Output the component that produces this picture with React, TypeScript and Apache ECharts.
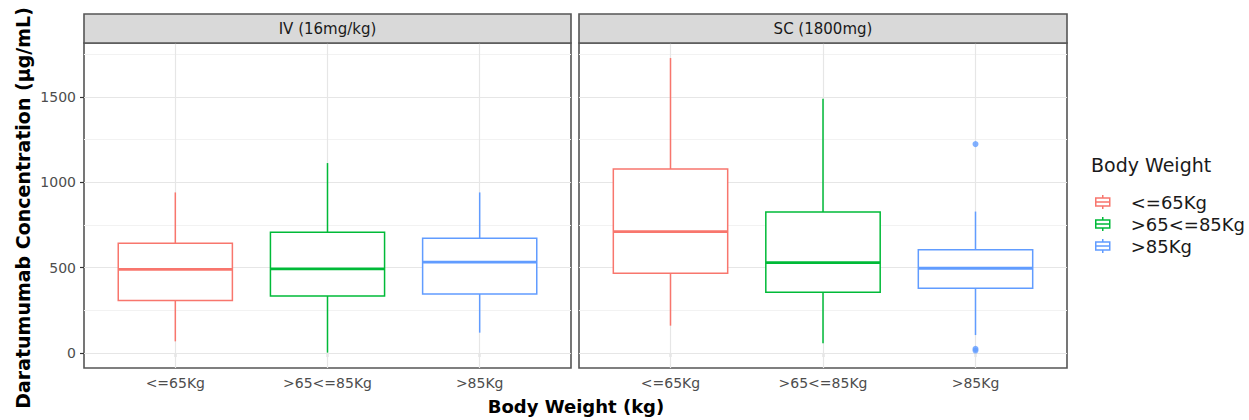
import React, { useEffect, useRef } from 'react';
import * as echarts from 'echarts';

const categories = ['<=65Kg', '>65<=85Kg', '>85Kg'];
const panelTitles = ['IV (16mg/kg)', 'SC (1800mg)'];
const yTicks = [0, 500, 1000, 1500];
const yMinor = [250, 750, 1250, 1750];
const xTicks = [1, 2, 3];
// [min, q1, median, q3, max]
const ivLow = [68, 307, 490, 643, 940];
const ivMid = [2, 334, 492, 707, 1112];
const ivHigh = [119, 346, 532, 672, 940];
const scLow = [160, 467, 711, 1077, 1727];
const scMid = [57, 356, 529, 826, 1489];
const scHigh = [105, 379, 496, 604, 828];
const scHighOutliers = [1223, 14, 24];
const colors = ['#F8766D', '#00BA38', '#619CFF'];

const FONT = 'DejaVu Sans';
const ICON = 'path://M7,0L7,3M0,3L14,3L14,11L0,11ZM0,7L14,7M7,11L7,14M30,14';

export default function App() {
  const ref = useRef<HTMLDivElement>(null);
  useEffect(() => {
    if (!ref.current) return;
    const chart = echarts.init(ref.current, undefined, { renderer: 'svg' });
    const stats = [
      [ivLow, ivMid, ivHigh],
      [scLow, scMid, scHigh],
    ];
    const grids = [
      { left: 84, top: 43, width: 487, height: 325 },
      { left: 579, top: 43, width: 488, height: 325 },
    ];
    const series: any[] = [];
    [0, 1].forEach((p) => {
      series.push({
        type: 'scatter',
        name: 'grid' + p,
        xAxisIndex: p,
        yAxisIndex: p,
        data: [[2, -1000]],
        symbolSize: 0,
        silent: true,
        z: 1,
        markLine: {
          silent: true,
          z: 1,
          symbol: 'none',
          label: { show: false },
          animation: false,
          data: [
            ...yMinor.map((v) => ({ yAxis: v, lineStyle: { color: '#F2F2F2', width: 1, type: 'solid' } })),
            ...yTicks.map((v) => ({ yAxis: v, lineStyle: { color: '#E6E6E6', width: 1.2, type: 'solid' } })),
            ...xTicks.map((v) => ({ xAxis: v, lineStyle: { color: '#E6E6E6', width: 1.2, type: 'solid' } })),
          ],
        },
      });
      categories.forEach((c, i) => {
        const col = colors[i];
        series.push({
          type: 'custom',
          name: c,
          xAxisIndex: p,
          yAxisIndex: p,
          z: 10,
          itemStyle: { color: col },
          encode: { x: 0, y: [1, 2, 3, 4, 5] },
          data: [[i + 1, ...stats[p][i]]],
          renderItem: (params: any, api: any) => {
            const x = api.value(0);
            const lo = api.coord([x, api.value(1)]);
            const q1 = api.coord([x, api.value(2)]);
            const md = api.coord([x, api.value(3)]);
            const q3 = api.coord([x, api.value(4)]);
            const hi = api.coord([x, api.value(5)]);
            const w = api.size([0.75, 0])[0];
            const cx = q1[0];
            const st = { stroke: col, lineWidth: 1.5, fill: 'none' };
            return {
              type: 'group',
              children: [
                { type: 'line', shape: { x1: cx, y1: hi[1], x2: cx, y2: q3[1] }, style: st },
                { type: 'line', shape: { x1: cx, y1: q1[1], x2: cx, y2: lo[1] }, style: st },
                { type: 'rect', shape: { x: cx - w / 2, y: q3[1], width: w, height: q1[1] - q3[1] }, style: { ...st, fill: '#fff' } },
                { type: 'line', shape: { x1: cx - w / 2, y1: md[1], x2: cx + w / 2, y2: md[1] }, style: { ...st, lineWidth: 2.8 } },
              ],
            };
          },
        });
      });
    });
    series.push({
      type: 'scatter',
      name: 'outliers',
      xAxisIndex: 1,
      yAxisIndex: 1,
      z: 11,
      symbolSize: 6,
      itemStyle: { color: colors[2] },
      data: scHighOutliers.map((v) => [3, v]),
    });

    const xAxes = [0, 1].map((p) => ({
      type: 'value',
      gridIndex: p,
      min: 0.4,
      max: 3.6,
      splitLine: { show: false },
      axisLine: { show: false },
      axisTick: { show: true, customValues: xTicks, length: 4, lineStyle: { color: '#333', width: 1.2 } },
      axisLabel: {
        customValues: xTicks,
        formatter: (v: number) => categories[Math.round(v) - 1] ?? '',
        color: '#4D4D4D',
        fontSize: 14,
        fontFamily: FONT,
        margin: 8,
      },
    }));
    const yAxes = [0, 1].map((p) => ({
      type: 'value',
      gridIndex: p,
      min: -88,
      max: 1815,
      splitLine: { show: false },
      axisLine: { show: false },
      axisTick: { show: p === 0, customValues: yTicks, length: 4, lineStyle: { color: '#333', width: 1.2 } },
      axisLabel: {
        show: p === 0,
        customValues: yTicks,
        formatter: (v: number) => String(v),
        color: '#4D4D4D',
        fontSize: 14,
        fontFamily: FONT,
        margin: 8,
      },
    }));

    const graphic: any[] = [];
    grids.forEach((g, p) => {
      graphic.push({
        type: 'rect',
        shape: { x: g.left, y: 14, width: g.width, height: 29 },
        style: { fill: '#D9D9D9', stroke: '#555', lineWidth: 1.6 },
        z: 10,
      });
      graphic.push({
        type: 'text',
        x: g.left + g.width / 2,
        y: 28.5,
        style: { text: panelTitles[p], fill: '#1A1A1A', fontSize: 15, fontFamily: FONT, align: 'center', verticalAlign: 'middle' },
        z: 11,
      });
    });
    graphic.push({
      type: 'text',
      x: 23,
      y: 208,
      rotation: Math.PI / 2,
      style: { text: 'Daratumumab Concentration (µg/mL)', fill: '#000', fontSize: 19, fontWeight: 'bold', fontFamily: FONT, align: 'center', verticalAlign: 'middle' },
    });
    graphic.push({
      type: 'text',
      x: 576,
      y: 406,
      style: { text: 'Body Weight (kg)', fill: '#000', fontSize: 18, fontWeight: 'bold', fontFamily: FONT, align: 'center', verticalAlign: 'middle' },
    });
    graphic.push({
      type: 'text',
      x: 1091,
      y: 165,
      style: { text: 'Body Weight', fill: '#1A1A1A', fontSize: 19, fontFamily: FONT, align: 'left', verticalAlign: 'middle' },
    });

    chart.setOption({
      animation: false,
      backgroundColor: '#fff',
      grid: grids.map((g) => ({ ...g, show: true, borderColor: '#555', borderWidth: 1.6, backgroundColor: 'transparent', containLabel: false })),
      xAxis: xAxes,
      yAxis: yAxes,
      legend: {
        orient: 'vertical',
        left: 1090,
        top: 188,
        itemWidth: 30,
        itemHeight: 14,
        itemGap: 4,
        selectedMode: false,
        textStyle: { fontSize: 18, fontFamily: FONT, color: '#1A1A1A' },
        data: categories.map((c, i) => ({
          name: c,
          icon: ICON,
          itemStyle: { color: 'rgba(0,0,0,0)', borderColor: colors[i], borderWidth: 1.5 },
        })),
      },
      graphic,
      series,
    });
    return () => chart.dispose();
  }, []);
  return <div ref={ref} style={{ position: 'fixed', left: 0, top: 0, width: 1249, height: 420 }} />;
}
